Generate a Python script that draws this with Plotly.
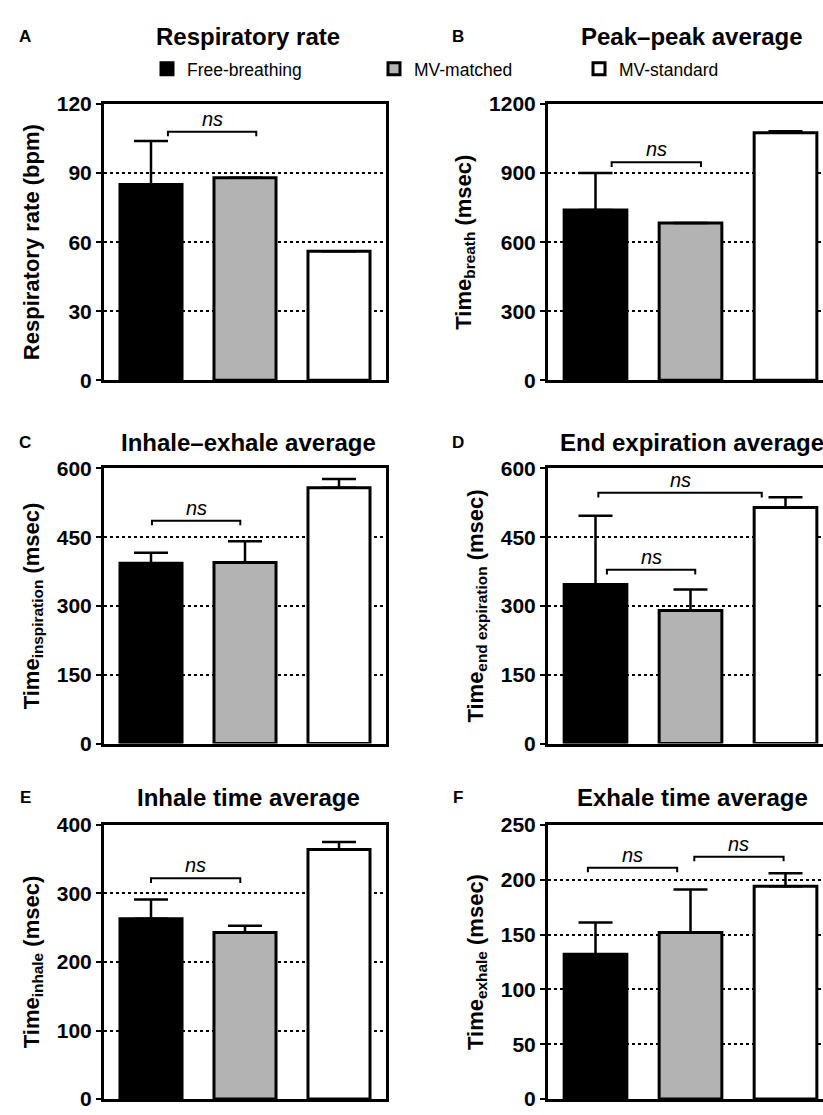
import plotly.graph_objects as go

# ---------------- data ----------------
groups = ["Free-breathing", "MV-matched", "MV-standard"]
group_colors = ["#000000", "#b3b3b3", "#ffffff"]

resp_rate_mean = [85, 88, 56]
resp_rate_err = [19, 0, 0]

peak_peak_mean = [740, 683, 1075]
peak_peak_err = [160, 0, 7]

inhale_exhale_mean = [393, 395, 558]
inhale_exhale_err = [23, 46, 19]

end_exp_mean = [347, 290, 515]
end_exp_err = [150, 46, 22]

inhale_time_mean = [263, 243, 364]
inhale_time_err = [28, 10, 11]

exhale_time_mean = [132, 152, 194]
exhale_time_err = [29, 39, 12]

# significance brackets: (from position, to position, level)
resp_rate_brackets = [(0.18, 1.12, 108)]
peak_peak_brackets = [(0.17, 1.11, 947)]
inhale_exhale_brackets = [(0.01, 0.95, 486)]
end_exp_brackets = [(0.03, 1.75, 547), (0.12, 1.05, 379)]
inhale_time_brackets = [(0.0, 0.95, 322)]
exhale_time_brackets = [(-0.08, 0.86, 211), (1.04, 1.98, 221)]

panels = [
    dict(letter="A", title="Respiratory rate", ytitle="Respiratory rate (bpm)",
         mean=resp_rate_mean, err=resp_rate_err, ymax=120, dtick=30, brackets=resp_rate_brackets),
    dict(letter="B", title="Peak\u2013peak average", ytitle="Time<sub>breath</sub> (msec)",
         mean=peak_peak_mean, err=peak_peak_err, ymax=1200, dtick=300, brackets=peak_peak_brackets),
    dict(letter="C", title="Inhale\u2013exhale average", ytitle="Time<sub>inspiration</sub> (msec)",
         mean=inhale_exhale_mean, err=inhale_exhale_err, ymax=600, dtick=150, brackets=inhale_exhale_brackets),
    dict(letter="D", title="End expiration average", ytitle="Time<sub>end expiration</sub> (msec)",
         mean=end_exp_mean, err=end_exp_err, ymax=600, dtick=150, brackets=end_exp_brackets),
    dict(letter="E", title="Inhale time average", ytitle="Time<sub>inhale</sub> (msec)",
         mean=inhale_time_mean, err=inhale_time_err, ymax=400, dtick=100, brackets=inhale_time_brackets),
    dict(letter="F", title="Exhale time average", ytitle="Time<sub>exhale</sub> (msec)",
         mean=exhale_time_mean, err=exhale_time_err, ymax=250, dtick=50, brackets=exhale_time_brackets),
]

# ---------------- layout geometry ----------------
W, H = 823, 1115
FONT = "Arial, Liberation Sans, Helvetica, sans-serif"
row_px = [(94, 376), (466, 747), (830, 1110)]       # top, bottom (px from top)
col_px = [(104, 386), (548, 823)]                    # left, right (px)
col_range = [[-0.5, 2.5], [-0.5, (823 - 548) / 95 - 0.5]]
letter_x = [25, 458]
title_cx = [248, 692]
title_y = [25, 440, 802]

fig = go.Figure()
layout = dict(
    width=W, height=H,
    margin=dict(l=0, r=0, t=0, b=0),
    paper_bgcolor="white", plot_bgcolor="white",
    font=dict(family=FONT, color="black"),
    barmode="group", bargap=0.34,
    shapes=[], annotations=[],
)

for i, p in enumerate(panels):
    r, c = divmod(i, 2)
    n = i + 1
    xa = "x" if n == 1 else f"x{n}"
    ya = "y" if n == 1 else f"y{n}"
    xkey = "xaxis" if n == 1 else f"xaxis{n}"
    ykey = "yaxis" if n == 1 else f"yaxis{n}"

    for g, (name, col) in enumerate(zip(groups, group_colors)):
        fig.add_trace(go.Bar(
            x=[name], y=[p["mean"][g]],
            name=name,
            marker=dict(color=col, line=dict(color="black", width=3)),
            error_y=dict(type="data", symmetric=False,
                         array=[p["err"][g]], arrayminus=[0],
                         color="black", thickness=2.5, width=17),
            xaxis=xa, yaxis=ya,
            showlegend=(i == 0),
            legend=["legend", "legend2", "legend3"][g],
            width=0.66,
            offset=-0.33,
        ))

    top, bot = row_px[r]
    left, right = col_px[c]
    layout[xkey] = dict(
        domain=[left / W, right / W],
        range=col_range[c],
        type="category",
        categoryorder="array", categoryarray=groups,
        showticklabels=False, ticks="",
        showline=True, linecolor="black", linewidth=3, mirror=True,
        showgrid=False, zeroline=False,
        anchor=ya, fixedrange=True,
    )
    layout[ykey] = dict(
        domain=[1 - bot / H, 1 - top / H],
        range=[0, p["ymax"]],
        tick0=0, dtick=p["dtick"],
        ticks="outside", ticklen=5, tickwidth=2, tickcolor="black",
        tickfont=dict(size=21, family=FONT, weight="bold", color="black"),
        showline=True, linecolor="black", linewidth=3,
        mirror=(c == 0),
        showgrid=True, gridcolor="black", gridwidth=2, griddash="dot",
        zeroline=False,
        title=dict(text=p["ytitle"], font=dict(size=22, family=FONT, weight="bold", color="black"),
                   standoff=12),
        anchor=xa, fixedrange=True,
    )

    # significance brackets
    drop = p["ymax"] * 0.017
    for (x0, x1, yl) in p["brackets"]:
        layout["shapes"].append(dict(
            type="path", xref=xa, yref=ya,
            path=f"M {x0},{yl - drop} L {x0},{yl} L {x1},{yl} L {x1},{yl - drop}",
            line=dict(color="black", width=2),
        ))
        layout["annotations"].append(dict(
            x=(x0 + x1) / 2, y=yl, xref=xa, yref=ya,
            text="<i>ns</i>", showarrow=False, yanchor="bottom", yshift=0,
            font=dict(size=20, family=FONT, color="black"),
        ))

    # panel title and letter
    layout["annotations"].append(dict(
        x=title_cx[c] / W, y=1 - title_y[r] / H, xref="paper", yref="paper",
        text=p["title"], showarrow=False, xanchor="center", yanchor="middle",
        font=dict(size=24, family=FONT, weight="bold", color="black"),
    ))
    layout["annotations"].append(dict(
        x=letter_x[c] / W, y=1 - title_y[r] / H, xref="paper", yref="paper",
        text=p["letter"], showarrow=False, xanchor="center", yanchor="middle",
        font=dict(size=17, family=FONT, weight="bold", color="black"),
    ))

legend_common = dict(orientation="h", xanchor="left", yanchor="middle",
                     y=1 - 58 / H, bgcolor="rgba(0,0,0,0)", borderwidth=0,
                     font=dict(size=17.5, family=FONT, color="black"))
layout["legend"] = dict(x=(168 - 21) / W, **legend_common)
layout["legend2"] = dict(x=(395 - 21) / W, **legend_common)
layout["legend3"] = dict(x=(600 - 21) / W, **legend_common)

fig.update_layout(**layout)
fig.write_html(
    "out.html",
    config={"displayModeBar": False},
    post_script="document.body.style.margin='0';document.body.style.overflow='hidden';",
)
